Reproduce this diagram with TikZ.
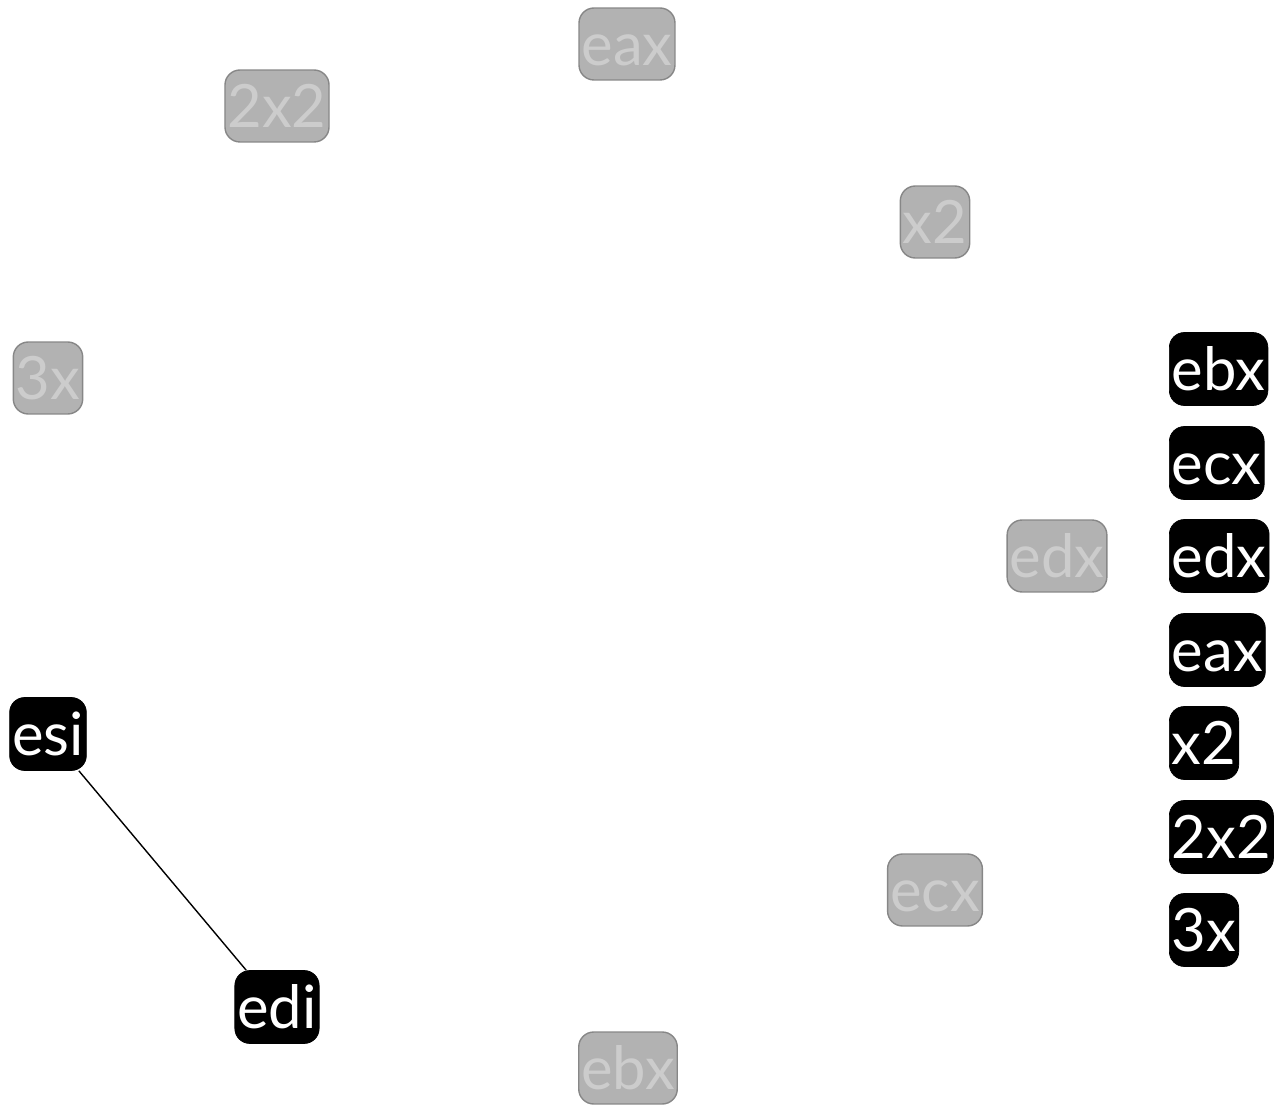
\documentclass[tikz,border=0pt]{standalone}
\usepackage{fontspec}
\setmainfont{Lato}
\usetikzlibrary{positioning}

\begin{document}
\begin{tikzpicture}[
    x=0.02cm, y=-0.02cm,
    dim node/.style={rectangle, rounded corners=0.3cm, fill=black!30, draw=black!47, line width=0.8pt, text=black!20, minimum height=1.44cm, text height=0.88cm, text depth=0pt, inner xsep=0.05cm, inner ysep=0pt, font=\fontsize{34}{34}\selectfont},
    hot node/.style={rectangle, rounded corners=0.3cm, fill=black, draw=black, text=white, minimum height=1.46cm, text height=0.88cm, text depth=0pt, inner xsep=0.05cm, inner ysep=0pt, font=\fontsize{34}{34}\selectfont}
]
    \useasboundingbox (0,0) rectangle (1279,1111);

    % --- Ring of faded nodes ---
    \node[dim node] (Eax) at (627, 44) {eax};
    \node[dim node] (TwoXTwo) at (277, 106) {2x2};
    \node[dim node] (XTwo) at (935, 222) {x2};
    \node[dim node] (ThreeX) at (48, 378) {3x};
    \node[dim node] (Edx) at (1057, 556) {edx};
    \node[dim node] (Ecx) at (935, 890) {ecx};
    \node[dim node] (Ebx) at (628, 1068) {ebx};

    % --- Active nodes ---
    \node[hot node] (Esi) at (48, 734) {esi};
    \node[hot node] (Edi) at (277, 1007) {edi};

    \draw[line width=0.8pt] (Esi) -- (Edi);

    % --- Column on the right ---
    \node[hot node, anchor=west] (ColEbx) at (1169, 369) {ebx};
    \node[hot node, anchor=west] (ColEcx) at (1169, 463) {ecx};
    \node[hot node, anchor=west] (ColEdx) at (1169, 556) {edx};
    \node[hot node, anchor=west] (ColEax) at (1169, 650) {eax};
    \node[hot node, anchor=west] (ColXTwo) at (1169, 743) {x2};
    \node[hot node, anchor=west] (ColTwoXTwo) at (1169, 837) {2x2};
    \node[hot node, anchor=west] (ColThreeX) at (1169, 930) {3x};
\end{tikzpicture}
\end{document}
